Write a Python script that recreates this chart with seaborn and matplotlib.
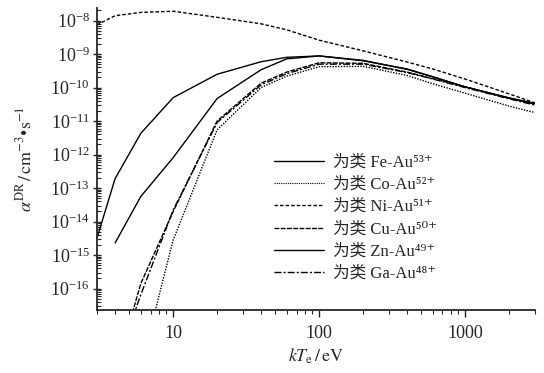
import pandas as pd
import seaborn as sns
import matplotlib.pyplot as plt
import matplotlib.ticker as mticker
import numpy as np

# kT_e grid (eV) and DR rate coefficients (cm^-3 s^-1)
t_fe = [4, 6, 10, 20, 40, 60, 100, 200, 400, 600, 1000, 2000, 3000]
fe = [2.3e-15, 5.6e-14, 8.1e-13, 4.7e-11, 3.4e-10, 7.2e-10, 8.8e-10, 6.3e-10, 3.6e-10, 2.1e-10, 1.05e-10, 4.9e-11, 3.4e-11]

t_co = [6, 10, 20, 40, 60, 100, 200, 400, 600, 1000, 2000, 3000]
co = [4.5e-19, 2.8e-15, 5.5e-12, 1.0e-10, 2.2e-10, 4.2e-10, 4.3e-10, 2.3e-10, 1.3e-10, 6.8e-11, 2.8e-11, 1.8e-11]

t_ni = [3, 4, 6, 10, 20, 40, 60, 100, 200, 400, 600, 1000, 2000, 3000]
ni = [7.4e-9, 1.4e-8, 1.75e-8, 1.9e-8, 1.25e-8, 8.0e-9, 5.3e-9, 2.6e-9, 1.25e-9, 5.8e-10, 3.6e-10, 1.8e-10, 6.5e-11, 3.5e-11]

t_cu = [4, 6, 10, 20, 40, 60, 100, 200, 400, 600, 1000, 2000, 3000]
cu = [3e-19, 1.4e-16, 2.0e-14, 1.0e-11, 1.35e-10, 2.9e-10, 5.5e-10, 5.3e-10, 2.9e-10, 1.85e-10, 1.05e-10, 4.8e-11, 3.2e-11]

t_zn = [3, 4, 6, 10, 20, 40, 60, 100, 200, 400, 600, 1000, 2000, 3000]
zn = [3.1e-15, 1.9e-13, 4.3e-12, 5.0e-11, 2.5e-10, 5.9e-10, 8.0e-10, 8.8e-10, 6.5e-10, 3.5e-10, 2.1e-10, 1.05e-10, 4.9e-11, 3.3e-11]

t_ga = [4, 6, 10, 20, 40, 60, 100, 200, 400, 600, 1000, 2000, 3000]
ga = [4.5e-19, 6.5e-17, 2.2e-14, 9.0e-12, 1.2e-10, 2.6e-10, 5.0e-10, 5.0e-10, 2.8e-10, 1.8e-10, 1.0e-10, 4.6e-11, 3.0e-11]

labels = ["为类 Fe-Au⁵³⁺", "为类 Co-Au⁵²⁺", "为类 Ni-Au⁵¹⁺",
          "为类 Cu-Au⁵⁰⁺", "为类 Zn-Au⁴⁹⁺", "为类 Ga-Au⁴⁸⁺"]

series = [(t_fe, fe), (t_co, co), (t_ni, ni), (t_cu, cu), (t_zn, zn), (t_ga, ga)]
rows = []
for lab, (tt, vv) in zip(labels, series):
    for t, v in zip(tt, vv):
        rows.append({"T": t, "rate": v, "ion": lab})
df = pd.DataFrame(rows)

sns.set_style("ticks")
plt.rcParams["font.family"] = ["Liberation Serif", "Noto Sans CJK SC", "DejaVu Serif"]
plt.rcParams["mathtext.fontset"] = "stix"

my_pal = {lab: "black" for lab in labels}
my_dashes = {labels[0]: "", labels[1]: (1, 1), labels[2]: (2.5, 1.5),
             labels[3]: (3.5, 1), labels[4]: "", labels[5]: (5, 1.5, 1.5, 1.5)}

f, ax = plt.subplots(figsize=(5.44, 3.73), dpi=100)
sns.lineplot(df, x="T", y="rate", hue="ion", style="ion", hue_order=labels,
             style_order=labels, palette=my_pal, dashes=my_dashes,
             linewidth=1.0, estimator=None, sort=True, ax=ax)
for ln in ax.lines:
    if ln.get_label() == labels[1]:
        ln.set_linewidth(0.8)

ax.set_xscale("log")
ax.set_yscale("log")
ax.set_xlim(3, 3000)
ax.set_ylim(2.3e-17, 2.4e-8)

ax.xaxis.set_major_locator(mticker.FixedLocator([10, 100, 1000]))
ax.xaxis.set_major_formatter(mticker.FixedFormatter(["10", "100", "1000"]))
ax.xaxis.set_minor_locator(mticker.LogLocator(base=10, subs=np.arange(2, 10), numticks=20))
ax.xaxis.set_minor_formatter(mticker.NullFormatter())
ax.yaxis.set_major_locator(mticker.LogLocator(base=10, numticks=20))
ax.yaxis.set_minor_locator(mticker.LogLocator(base=10, subs=np.arange(2, 10), numticks=20))
ax.yaxis.set_minor_formatter(mticker.NullFormatter())

ax.tick_params(axis="x", which="major", direction="out", length=5, width=1, labelsize=13, pad=6)
ax.tick_params(axis="x", which="minor", direction="out", length=3, width=0.8)
ax.tick_params(axis="y", which="major", direction="inout", length=6, width=1, labelsize=13, pad=2)
ax.tick_params(axis="y", which="minor", direction="in", length=3, width=0.8)

for s in ["top", "right"]:
    ax.spines[s].set_visible(False)
for s in ["left", "bottom"]:
    ax.spines[s].set_linewidth(1.3)

ax.set_xlabel(r"$kT_{\rm e}\,/\,{\rm eV}$", fontsize=13, labelpad=3)
ax.set_ylabel(r"$\alpha^{\rm DR}\,/\,{\rm cm^{-3}}$•${\rm s^{-1}}$", fontsize=13, labelpad=11)

handles, labs = ax.get_legend_handles_labels()
ax.legend(handles=handles, labels=labs, frameon=False, loc="upper left",
          bbox_to_anchor=(0.405, 0.515), borderaxespad=0, borderpad=0,
          fontsize=12, handlelength=3.0, handletextpad=0.5, labelspacing=0.38)

plt.subplots_adjust(left=0.178, right=0.983, bottom=0.169, top=0.979)
f.savefig("out.png", dpi=100)
